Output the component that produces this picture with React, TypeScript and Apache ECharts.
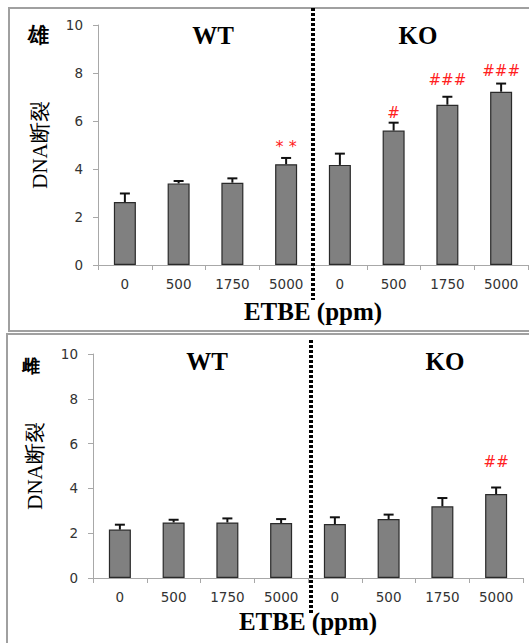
import React, { useEffect, useRef } from "react";
import * as echarts from "echarts";

const doseLabels = ["0", "500", "1750", "5000", "0", "500", "1750", "5000"];
const yTicks = [0, 2, 4, 6, 8, 10];

// Male (雄)
const maleMeans = [2.62, 3.4, 3.43, 4.2, 4.17, 5.6, 6.68, 7.22];
const maleErrors = [0.36, 0.1, 0.18, 0.26, 0.47, 0.33, 0.33, 0.34];
const maleMarks = ["", "", "", "* *", "", "#", "###", "###"];
const maleMarkAt = [0, 0, 0, 4.92, 0, 6.33, 7.71, 8.08];

// Female (雌)
const femaleMeans = [2.16, 2.48, 2.48, 2.45, 2.41, 2.63, 3.2, 3.75];
const femaleErrors = [0.22, 0.12, 0.18, 0.18, 0.3, 0.2, 0.37, 0.29];
const femaleMarks = ["", "", "", "", "", "", "", "##"];
const femaleMarkAt = [0, 0, 0, 0, 0, 0, 0, 5.19];

const panelTitles = ["雄", "雌"];
const groupTitles = ["WT", "KO"];
const yName = "DNA断裂";
const xName = "ETBE (ppm)";

const SERIF = "'Liberation Serif', 'Times New Roman', serif";
const SANS = "'DejaVu Sans', Verdana, sans-serif";

function makeErr(marks: string[], markAt: number[]) {
  return (params: any, api: any) => {
    const i = api.value(0);
    const v = api.value(1);
    const e = api.value(2);
    const base = api.coord([i, v]);
    const top = api.coord([i, v + e]);
    const children: any[] = [
      {
        type: "line",
        shape: { x1: base[0], y1: base[1], x2: top[0], y2: top[1] },
        style: { stroke: "#111", lineWidth: 2 },
      },
      {
        type: "line",
        shape: { x1: top[0] - 5, y1: top[1], x2: top[0] + 5, y2: top[1] },
        style: { stroke: "#111", lineWidth: 2 },
      },
    ];
    const idx = params.dataIndex;
    if (marks[idx]) {
      const p = api.coord([i, markAt[idx]]);
      const isStar = marks[idx].indexOf("*") >= 0;
      children.push({
        type: "text",
        x: p[0],
        y: p[1],
        style: {
          text: marks[idx],
          align: "center",
          verticalAlign: "middle",
          fill: "#ff2020",
          fontFamily: SANS,
          fontSize: isStar ? 16 : 15,
        },
      });
    }
    return { type: "group", children };
  };
}

export default function App() {
  const ref = useRef<HTMLDivElement>(null);
  useEffect(() => {
    if (!ref.current) return;
    const chart = echarts.init(ref.current, undefined, { renderer: "svg" });
    const grids = [
      { left: 98, top: 25, width: 430, height: 240 },
      { left: 93, top: 354, width: 430, height: 224 },
    ];
    const xAxis = grids.map((_, gi) => ({
      type: "category" as const,
      gridIndex: gi,
      data: doseLabels,
      boundaryGap: true,
      axisLine: { lineStyle: { color: "#a8a8a8", width: 1 } },
      axisTick: { show: true, length: 5, lineStyle: { color: "#a8a8a8" } },
      axisLabel: { color: "#333", fontFamily: SANS, fontSize: 13.5, margin: 12 },
      name: xName,
      nameLocation: "middle" as const,
      nameGap: gi === 0 ? 34 : 31,
      nameTextStyle: { fontFamily: SERIF, fontWeight: "bold" as const, fontSize: 25, color: "#000" },
      splitLine: { show: false },
    }));
    const yAxis = grids.map((_, gi) => ({
      type: "value" as const,
      gridIndex: gi,
      min: yTicks[0],
      max: yTicks[yTicks.length - 1],
      interval: yTicks[1] - yTicks[0],
      axisLine: { show: true, lineStyle: { color: "#a8a8a8", width: 1 } },
      axisTick: { show: true, length: 5, lineStyle: { color: "#a8a8a8" } },
      axisLabel: { color: "#333", fontFamily: SANS, fontSize: 13.5, margin: 15 },
      splitLine: { show: false },
      name: yName,
      nameLocation: "middle" as const,
      nameRotate: 90,
      nameGap: 48,
      nameTextStyle: { fontFamily: SERIF, fontSize: 21, color: "#000" },
    }));
    const barStyle = { color: "#808080", borderColor: "#2a2a2a", borderWidth: 1.2 };
    const option: any = {
      animation: false,
      grid: grids,
      xAxis,
      yAxis,
      series: [
        {
          type: "bar",
          xAxisIndex: 0,
          yAxisIndex: 0,
          data: maleMeans,
          barWidth: 22,
          itemStyle: barStyle,
        },
        {
          type: "custom",
          xAxisIndex: 0,
          yAxisIndex: 0,
          data: maleMeans.map((m, i) => [i, m, maleErrors[i]]),
          renderItem: makeErr(maleMarks, maleMarkAt),
          z: 5,
        },
        {
          type: "bar",
          xAxisIndex: 1,
          yAxisIndex: 1,
          data: femaleMeans,
          barWidth: 22,
          itemStyle: barStyle,
        },
        {
          type: "custom",
          xAxisIndex: 1,
          yAxisIndex: 1,
          data: femaleMeans.map((m, i) => [i, m, femaleErrors[i]]),
          renderItem: makeErr(femaleMarks, femaleMarkAt),
          z: 5,
        },
      ],
      graphic: [
        {
          type: "rect",
          shape: { x: 9, y: 8, width: 540, height: 323 },
          style: { fill: "none", stroke: "#a0a0a0", lineWidth: 2 },
          z: 0,
        },
        {
          type: "rect",
          shape: { x: 7, y: 334, width: 540, height: 330 },
          style: { fill: "none", stroke: "#a0a0a0", lineWidth: 2 },
          z: 0,
        },
        {
          type: "line",
          shape: { x1: 313, y1: 8, x2: 313, y2: 300 },
          style: { stroke: "#000", lineWidth: 4, lineDash: [3, 2] },
          z: 10,
        },
        {
          type: "line",
          shape: { x1: 311, y1: 340, x2: 311, y2: 613 },
          style: { stroke: "#000", lineWidth: 4, lineDash: [3, 2] },
          z: 10,
        },
        {
          type: "text",
          x: 38,
          y: 35,
          style: { text: panelTitles[0], fontFamily: SERIF, fontWeight: "bold", fontSize: 21, fill: "#000", align: "center", verticalAlign: "middle" },
        },
        {
          type: "text",
          x: 31,
          y: 366,
          style: { text: panelTitles[1], fontFamily: SERIF, fontWeight: "bold", fontSize: 18, fill: "#000", align: "center", verticalAlign: "middle" },
        },
        {
          type: "text",
          x: 213,
          y: 35,
          style: { text: groupTitles[0], fontFamily: SERIF, fontWeight: "bold", fontSize: 25, fill: "#000", align: "center", verticalAlign: "middle" },
        },
        {
          type: "text",
          x: 418,
          y: 35,
          style: { text: groupTitles[1], fontFamily: SERIF, fontWeight: "bold", fontSize: 25, fill: "#000", align: "center", verticalAlign: "middle" },
        },
        {
          type: "text",
          x: 207,
          y: 361,
          style: { text: groupTitles[0], fontFamily: SERIF, fontWeight: "bold", fontSize: 25, fill: "#000", align: "center", verticalAlign: "middle" },
        },
        {
          type: "text",
          x: 445,
          y: 361,
          style: { text: groupTitles[1], fontFamily: SERIF, fontWeight: "bold", fontSize: 25, fill: "#000", align: "center", verticalAlign: "middle" },
        },
      ],
    };
    chart.setOption(option);
    return () => chart.dispose();
  }, []);
  return (
    <div
      ref={ref}
      style={{ position: "fixed", left: 0, top: 0, width: 529, height: 643, background: "#fff" }}
    />
  );
}
